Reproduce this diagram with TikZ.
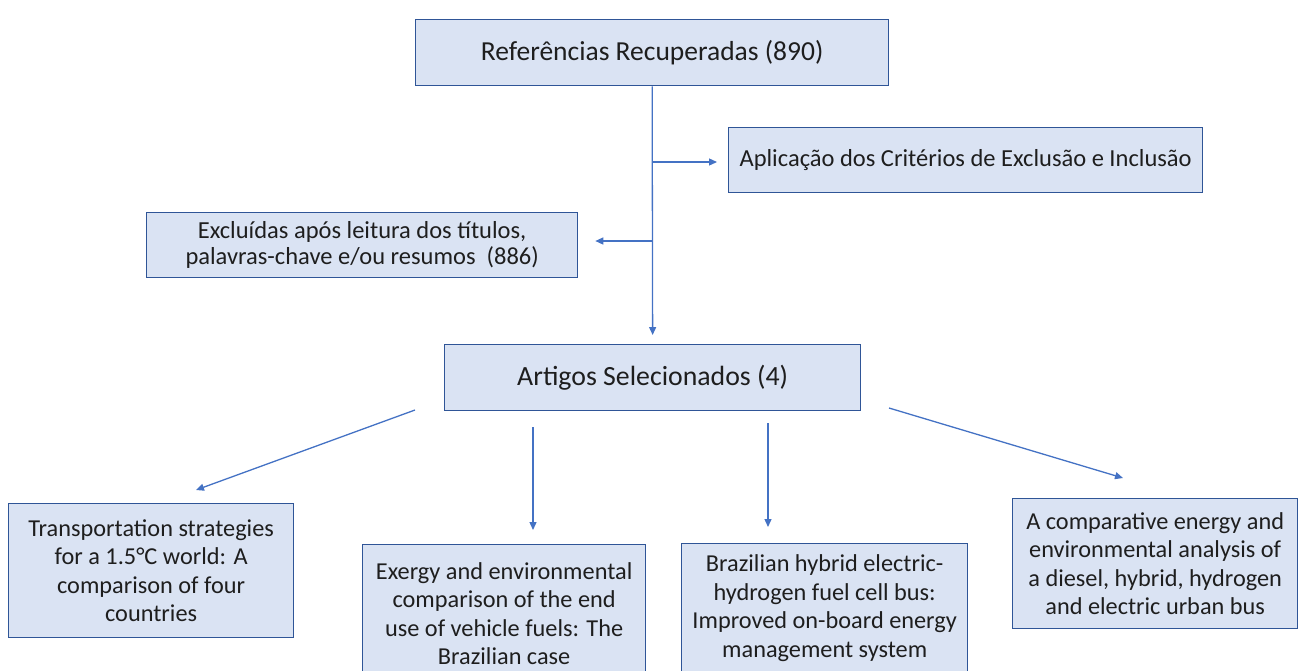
\documentclass[tikz,border=0pt]{standalone}
\usepackage{fontspec}
\setmainfont{Carlito}
\usetikzlibrary{arrows.meta}
\definecolor{boxfill}{RGB}{218,227,243}
\definecolor{boxline}{RGB}{47,85,151}
\definecolor{arrowc}{RGB}{68,114,196}
\definecolor{txtc}{RGB}{30,30,30}
\begin{document}
\begin{tikzpicture}[x=1pt,y=-1pt,
  box/.style={draw=boxline, fill=boxfill, line width=1.3pt, text=txtc, align=center, inner sep=0pt, anchor=north west},
  conn/.style={draw=arrowc, line width=1.3pt, -{Triangle[length=8pt,width=7pt]}},
  bigf/.style={font=\fontsize{27.5}{33}\selectfont},
  midf/.style={font=\fontsize{24.5}{29}\selectfont},
  smallf/.style={font=\fontsize{24.3}{28.6}\selectfont},
]
\useasboundingbox (0,0) rectangle (1301,670);
\clip (0,0) rectangle (1301,670);

\node[box, bigf, minimum width=473pt, minimum height=66pt] (ref) at (415,19) {Referências Recuperadas (890)};
\node[box, midf, minimum width=474pt, minimum height=65pt] (apl) at (728,127) {Aplicação dos Critérios de Exclusão e Inclusão};
\node[box, font=\fontsize{24.5}{26.5}\selectfont, minimum width=431pt, minimum height=65pt] (exc) at (146,212) {Excluídas após leitura dos títulos,\\palavras-chave e/ou resumos\ \ (886)};
\node[box, font=\fontsize{27.8}{33}\selectfont, minimum width=416pt, minimum height=66pt] (art) at (444,344) {Artigos Selecionados (4)};

\node[box, smallf, minimum width=285pt, minimum height=134pt] (b1) at (8,503) {Transportation strategies\\for a 1.5°C world: A\\comparison of four\\countries};
\node[box, smallf, minimum width=283pt, minimum height=138pt] (b2) at (362,544) {Exergy and environmental\\comparison of the end\\use of vehicle fuels: The\\Brazilian case};
\node[box, smallf, minimum width=286pt, minimum height=129pt] (b3) at (681,543) {Brazilian hybrid electric-\\hydrogen fuel cell bus:\\Improved on-board energy\\management system};
\node[box, smallf, minimum width=285pt, minimum height=130pt] (b4) at (1012,498) {A comparative energy and\\environmental analysis of\\a diesel, hybrid, hydrogen\\and electric urban bus};

\coordinate (j1) at (652,162);
\coordinate (j2) at (652,241);
\draw[conn, shorten >=9pt] (ref.south) -- (art.north);
\draw[conn, shorten >=11pt] (j1) -- (apl.west |- j1);
\draw[conn, shorten >=17pt] (j2) -- (exc.east |- j2);

\coordinate (s1) at (415,410); \coordinate (e1) at (196,490);
\coordinate (s2) at (533,427); \coordinate (e2) at (533,530);
\coordinate (s3) at (768,423); \coordinate (e3) at (768,527);
\coordinate (s4) at (889,408); \coordinate (e4) at (1123,478);
\draw[conn] (s1) -- (e1);
\draw[conn] (s2) -- (e2);
\draw[conn] (s3) -- (e3);
\draw[conn] (s4) -- (e4);
\end{tikzpicture}
\end{document}
